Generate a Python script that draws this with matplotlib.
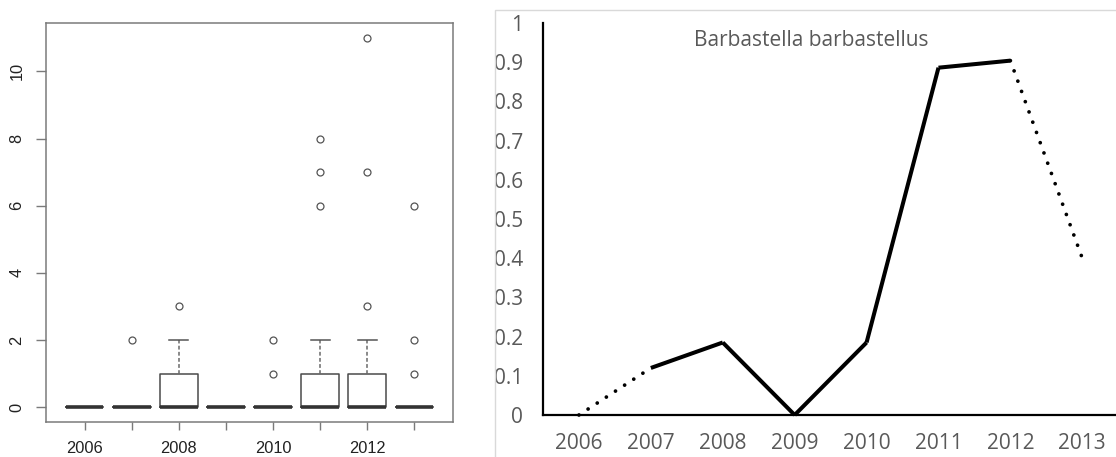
import matplotlib.pyplot as plt
import matplotlib.transforms as mtransforms
from matplotlib.patches import Rectangle
from matplotlib.ticker import FuncFormatter

# Per-year count summaries (box statistics) for the left panel
years = [2006, 2007, 2008, 2009, 2010, 2011, 2012, 2013]
q1 = [0, 0, 0, 0, 0, 0, 0, 0]
medians = [0, 0, 0, 0, 0, 0, 0, 0]
q3 = [0, 0, 1, 0, 0, 1, 1, 0]
whisker_lo = [0, 0, 0, 0, 0, 0, 0, 0]
whisker_hi = [0, 0, 2, 0, 0, 2, 2, 0]
outliers = [[], [2], [3], [], [1, 2], [6, 7, 8], [3, 7, 11], [1, 2, 6]]
count_ticks = [0, 2, 4, 6, 8, 10]

# Yearly index for Barbastella barbastellus (right panel)
species = 'Barbastella barbastellus'
index_values = [0.0, 0.12, 0.185, 0.0, 0.185, 0.886, 0.904, 0.40]
# segments drawn dotted (start index of each pair)
dotted_segments = [0, 6]

W, H = 1116, 457
fig = plt.figure(figsize=(W / 100, H / 100), dpi=100)

# ---- left: R-style boxplot ----
ax1 = fig.add_axes([46 / W, 1 - 422 / H, (453 - 46) / W, (422 - 23) / H])
stats = []
for i in range(len(years)):
    stats.append({'q1': q1[i], 'med': medians[i], 'q3': q3[i],
                  'whislo': whisker_lo[i], 'whishi': whisker_hi[i],
                  'fliers': outliers[i]})
pos = list(range(1, len(years) + 1))
ax1.bxp(stats, positions=pos, widths=0.8,
        boxprops=dict(color='#4a4a4a', lw=1.1),
        medianprops=dict(color='#333333', lw=2.6, solid_capstyle='butt'),
        whiskerprops=dict(color='#6a6a6a', lw=1.1, linestyle=(0, (2.5, 1.5))),
        capprops=dict(color='#555555', lw=1.1),
        flierprops=dict(marker='o', markersize=5, markerfacecolor='none',
                        markeredgecolor='#555555', markeredgewidth=0.9))
ax1.set_xlim(0.18, 8.82)
ax1.set_ylim(-0.44, 11.44)
ax1.set_xticks(pos)
ax1.set_xticklabels([str(y) if k % 2 == 0 else '' for k, y in enumerate(years)],
                    fontfamily='Liberation Sans')
ax1.set_yticks(count_ticks)
ax1.set_yticklabels([])
for s in ax1.spines.values():
    s.set_color('#7a7a7a')
    s.set_linewidth(1.1)
ax1.tick_params(axis='both', color='#7a7a7a', width=1.0, labelcolor='#222222',
                labelsize=11.8)
ax1.tick_params(axis='x', length=6, pad=8)
ax1.tick_params(axis='y', length=7.2)

# rotated count labels, R style (parallel to the axis)
ylab_tr = mtransforms.blended_transform_factory(fig.transFigure, ax1.transData)
for v in count_ticks:
    ax1.text(17 / W, v, str(v), transform=ylab_tr, rotation=90,
             ha='center', va='center', fontsize=11.8, color='#222222',
             fontfamily='Liberation Sans')

# ---- right: Excel-style line chart ----
# chart area border
fig.patches.append(Rectangle((495 / W, -0.1), 1.0, 1 - 10 / H + 0.1,
                             transform=fig.transFigure, fill=False,
                             edgecolor='#d9d9d9', lw=1.0, zorder=0))

ax2 = fig.add_axes([543 / W, 1 - 415 / H, (W - 543) / W + 0.002, (415 - 23) / H])
x = list(range(len(years)))
for i in range(len(years) - 1):
    seg_x = [x[i], x[i + 1]]
    seg_y = [index_values[i], index_values[i + 1]]
    if i in dotted_segments:
        ax2.plot(seg_x, seg_y, color='black', lw=2.7,
                 linestyle=(0, (0.01, 2.9)), dash_capstyle='round',
                 clip_on=False)
    else:
        ax2.plot(seg_x, seg_y, color='black', lw=2.9,
                 solid_capstyle='butt', solid_joinstyle='miter',
                 clip_on=False)

ax2.set_xlim(-0.5, len(years) - 0.5)
ax2.set_ylim(0, 1)
ax2.set_xticks(x)
ax2.set_xticklabels([str(y) for y in years])
ax2.set_yticks([k / 10 for k in range(11)])
ax2.yaxis.set_major_formatter(FuncFormatter(lambda v, p: '%g' % round(v, 1)))
ax2.spines['top'].set_visible(False)
ax2.spines['right'].set_visible(False)
ax2.spines['left'].set_linewidth(1.6)
ax2.spines['bottom'].set_linewidth(1.6)
ax2.tick_params(axis='both', length=0, labelcolor='#595959', labelsize=15)
ax2.tick_params(axis='y', pad=14.5)
ax2.tick_params(axis='x', pad=13)
for lab in ax2.get_xticklabels() + ax2.get_yticklabels():
    lab.set_fontfamily('Open Sans')
ax2.patch.set_alpha(0)

fig.text(811 / W, 1 - 40 / H, species, ha='center', va='center',
         fontsize=15, color='#595959', fontfamily='Open Sans')

fig.savefig('out.png', dpi=100)
